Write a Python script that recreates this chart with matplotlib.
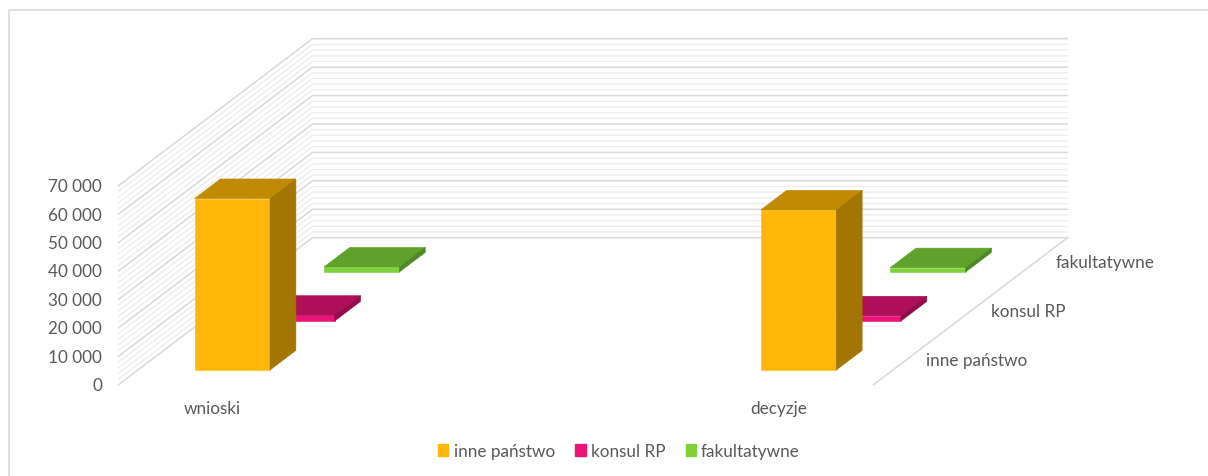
import numpy as np
import matplotlib
matplotlib.use('Agg')
import matplotlib.pyplot as plt
from matplotlib.lines import Line2D
from matplotlib.patches import Patch

categories = ['wnioski', '', '', 'decyzje']
series_names = ['inne państwo', 'konsul RP', 'fakultatywne']
inne_panstwo = [60300, 0, 0, 56300]
konsul_rp = [2000, 0, 0, 1800]
fakultatywne = [1750, 0, 0, 1500]
value_ticks = [0, 10000, 20000, 30000, 40000, 50000, 60000, 70000]

W, H = 1208, 477
plt.rcParams['font.family'] = ['Lato', 'DejaVu Sans']
TEXT = '#595959'
FS = 12.3

# colours per series: front, top, side
colours = [('#FFB70A', '#C08A02', '#A37503'),
           ('#EC1378', '#AE0F58', '#920C4A'),
           ('#7FD13B', '#60A12C', '#4F8725')]

# floor corner and scales in pixels
left, base, right, top = 118.5, 385.7, 1067.5, 39.7
px_cat = 188.75
px_val = 199 / 70000
depth_dx = 64.67 / px_cat       # one series slot, in category units
depth_dy = 49 / px_val          # one series slot, in value units
bar_w = 0.4
bar_d = 0.4

fig = plt.figure(figsize=(W/100, H/100), dpi=100)
ax = fig.add_axes([left/W, 1-base/H, (right-left)/W, (base-top)/H])
ax.set_xlim(0, (right-left)/px_cat)
ax.set_ylim(0, (base-top)/px_val)
ax.axis('off')


def proj(c, d, v):
    return c + d*depth_dx, v + d*depth_dy


def box(c, d, v, cols):
    x0, x1 = c - bar_w/2, c + bar_w/2
    d0, d1 = d - bar_d/2, d + bar_d/2
    front = [proj(x0, d0, 0), proj(x1, d0, 0), proj(x1, d0, v), proj(x0, d0, v)]
    lid = [proj(x0, d0, v), proj(x1, d0, v), proj(x1, d1, v), proj(x0, d1, v)]
    side = [proj(x1, d0, 0), proj(x1, d1, 0), proj(x1, d1, v), proj(x1, d0, v)]
    for pts, col in zip((front, lid, side), cols):
        ax.fill(*zip(*pts), color=col, lw=0.4, clip_on=False, zorder=3)


n_cat = len(categories)
n_ser = len(series_names)

# walls: four light lines between the major ones
for v in np.arange(0, value_ticks[-1] + 1, 2000):
    major = v % 10000 == 0
    col = '#D9D9D9' if major else '#EDEDED'
    lw = 1.1 if major else 1.0
    xs, ys = zip(proj(0, 0, v), proj(0, n_ser, v), proj(n_cat, n_ser, v))
    ax.plot(xs, ys, color=col, lw=lw, clip_on=False, zorder=2 if major else 1,
            solid_joinstyle='miter')

# floor edge on the right
xs, ys = zip(proj(n_cat, 0, 0), proj(n_cat, n_ser, 0))
ax.plot(xs, ys, color='#D9D9D9', lw=1.1, clip_on=False, zorder=2)

# back to front so the nearer bars cover the others
all_values = [inne_panstwo, konsul_rp, fakultatywne]
for s in reversed(range(n_ser)):
    for c in range(n_cat):
        if all_values[s][c] > 0:
            box(c + 0.5, s + 0.5, all_values[s][c], colours[s])

for v in value_ticks:
    ax.annotate(f'{v:,}'.replace(',', ' '), xy=(0, v), xytext=(-16.5, -0.5),
                textcoords='offset pixels', ha='right', va='center',
                color=TEXT, fontsize=FS, annotation_clip=False)

for c, name in enumerate(categories):
    ax.annotate(name, xy=(c + 0.5, 0), xytext=(-0.5, -23), textcoords='offset pixels',
                ha='center', va='center', color=TEXT, fontsize=FS,
                annotation_clip=False)

for s, name in enumerate(series_names):
    ax.annotate(name, xy=proj(n_cat, s + 0.5, 0), xytext=(20.5, 0),
                textcoords='offset pixels', ha='left', va='center',
                color=TEXT, fontsize=FS, annotation_clip=False)

handles = [Patch(color=colours[i][0], label=series_names[i]) for i in range(n_ser)]
fig.legend(handles=handles, loc='center', bbox_to_anchor=(619/W, 1-452/H), ncol=3,
           frameon=False, fontsize=FS, labelcolor=TEXT, handlelength=0.6,
           handleheight=0.65, handletextpad=0.3, columnspacing=1.2, borderpad=0)

# chart frame, cut off by the crop on the right and bottom
fig.add_artist(Line2D([9/W, 9/W, 1], [0, 1-11/H, 1-11/H], color='#DDDDDD', lw=1.3))

fig.savefig('out.png', dpi=100)
